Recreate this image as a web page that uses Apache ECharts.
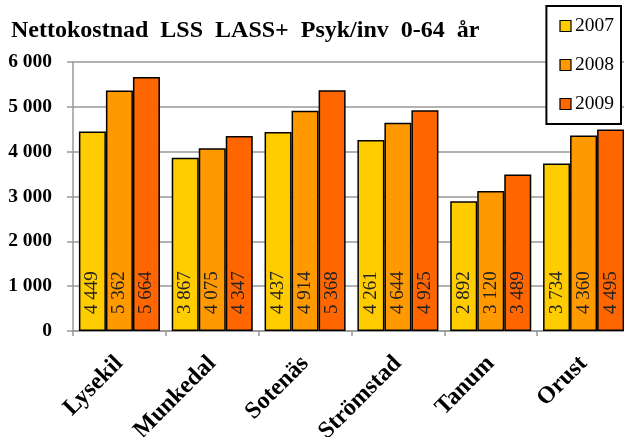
<!DOCTYPE html>
<html lang="sv">
<head>
    <meta charset="UTF-8"/>
    <title>Nettokostnad LSS LASS+ Psyk/inv 0-64 år</title>
    <script src="https://cdn.jsdelivr.net/npm/echarts@6/dist/echarts.min.js"></script>
    <style>
        html, body { margin: 0; padding: 0; background: #fff; }
        #chart { width: 624px; height: 437px; }
    </style>
</head>
<body>
<div id="chart"></div>
<script type="text/javascript">
    // kommuner och år
    var kommuner = ['Lysekil', 'Munkedal', 'Sotenäs', 'Strömstad', 'Tanum', 'Orust'];
    var years = ['2007', '2008', '2009'];

    // kr per invånare 0-64 år
    var v2007 = [4449, 3867, 4437, 4261, 2892, 3734];
    var v2008 = [5362, 4075, 4914, 4644, 3120, 4360];
    var v2009 = [5664, 4347, 5368, 4925, 3489, 4495];

    var yTicks = [0, 1000, 2000, 3000, 4000, 5000, 6000];

    var colors = ['#FFCC00', '#FF9900', '#FF6600'];
    var serif = '"Liberation Serif", "DejaVu Serif", serif';

    function fmt(v) {
        return String(v).replace(/\B(?=(\d{3})+(?!\d))/g, ' ');
    }

    function mkSeries(name, data, i) {
        return {
            name: name,
            type: 'bar',
            data: data,
            barGap: '0%',
            barCategoryGap: '12.7%',
            itemStyle: {
                color: colors[i],
                borderColor: '#000',
                borderWidth: 1.5
            },
            label: {
                show: true,
                position: 'insideBottom',
                rotate: 90,
                align: 'left',
                verticalAlign: 'middle',
                distance: 17,
                formatter: function (p) { return fmt(p.value); },
                fontFamily: serif,
                fontSize: 19,
                color: '#222'
            }
        };
    }

    var myChart = echarts.init(document.getElementById('chart'));
    var option = {
        animation: false,
        title: {
            text: 'Nettokostnad  LSS  LASS+  Psyk/inv  0-64  år',
            left: 6,
            top: 14,
            textStyle: {
                fontFamily: serif,
                fontWeight: 'bold',
                fontSize: 24,
                color: '#000'
            }
        },
        legend: {
            orient: 'vertical',
            right: 3,
            top: 6,
            data: years,
            itemWidth: 11,
            itemHeight: 11,
            itemGap: 19,
            padding: [10, 7, 10, 13],
            backgroundColor: '#fff',
            borderColor: '#000',
            borderWidth: 2,
            borderRadius: 0,
            icon: 'rect',
            itemStyle: { borderColor: '#000', borderWidth: 1.2 },
            textStyle: {
                fontFamily: serif,
                fontSize: 19.5,
                color: '#000',
                padding: [0, 0, 0, -1]
            }
        },
        grid: {
            left: 73,
            right: -6,
            top: 62,
            bottom: 106,
            containLabel: false,
            outerBoundsMode: 'none'
        },
        xAxis: {
            type: 'category',
            data: kommuner,
            axisLine: { lineStyle: { color: '#999', width: 1.5 } },
            axisTick: { show: true, length: 5, lineStyle: { color: '#999', width: 1.5 } },
            axisLabel: {
                interval: 0,
                rotate: 45,
                margin: 29,
                fontFamily: serif,
                fontWeight: 'bold',
                fontSize: 24,
                color: '#000'
            }
        },
        yAxis: {
            type: 'value',
            min: yTicks[0],
            max: yTicks[yTicks.length - 1],
            interval: 1000,
            axisLine: { show: true, lineStyle: { color: '#999', width: 1.5 } },
            axisTick: { show: true, length: 6, lineStyle: { color: '#999', width: 1.5 } },
            splitLine: { lineStyle: { color: '#999', width: 1.5 } },
            axisLabel: {
                margin: 21,
                formatter: function (v) { return fmt(v); },
                fontFamily: serif,
                fontWeight: 'bold',
                fontSize: 19.5,
                color: '#000'
            }
        },
        series: [
            mkSeries(years[0], v2007, 0),
            mkSeries(years[1], v2008, 1),
            mkSeries(years[2], v2009, 2)
        ]
    };
    myChart.setOption(option);
</script>
</body>
</html>
